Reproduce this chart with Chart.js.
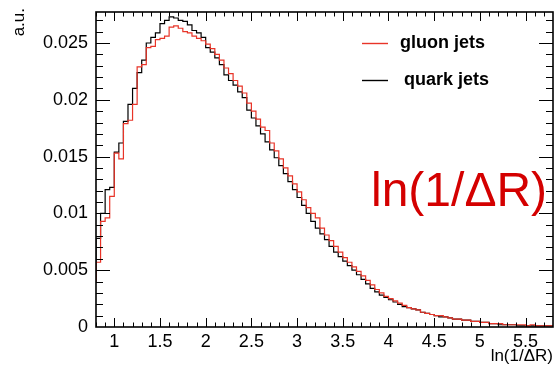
<!DOCTYPE html>
<html>
<head>
<meta charset="utf-8">
<script src="https://cdn.jsdelivr.net/npm/chart.js@4.4.0/dist/chart.umd.min.js"></script>
<style>
html, body { margin: 0; padding: 0; background: #fff; }
#wrap { width: 557px; height: 365px; }
</style>
</head>
<body>
<div id="wrap"><canvas id="myChart" width="557" height="365"></canvas></div>
<script>
// histogram binning (lower edge of first bin, bin width)
var binStart = 0.8;
var binWidth = 0.05;
var xMin = 0.8, xMax = 5.8;
var yMin = 0, yMax = 0.02773;

var xTicks = [1, 1.5, 2, 2.5, 3, 3.5, 4, 4.5, 5, 5.5];
var yTicks = [0, 0.005, 0.01, 0.015, 0.02, 0.025];
var xTitle = 'ln(1/\u0394R)';
var yTitle = 'a.u.';
var bigLabel = 'ln(1/\u0394R)';

// bin contents
var gluonJets = [
  0.0040, 0.0057, 0.0093, 0.0096, 0.0115, 0.0153, 0.0148, 0.0179, 0.0182, 0.0196,
  0.0229, 0.0231, 0.0246, 0.0247, 0.0253, 0.0254, 0.0256, 0.0264, 0.0265, 0.0263,
  0.0260, 0.0259, 0.0256, 0.0254, 0.0252, 0.0249, 0.0245, 0.0240, 0.0235, 0.0228,
  0.0223, 0.0217, 0.0212, 0.0206, 0.0197, 0.0190, 0.0183, 0.0176, 0.0173, 0.0162,
  0.0155, 0.0148, 0.0140, 0.0133, 0.0126, 0.0119, 0.0112, 0.0105, 0.0100, 0.0096,
  0.0087, 0.0081, 0.0076, 0.0071, 0.0066, 0.0061, 0.0057, 0.0053, 0.0049, 0.0045,
  0.0041, 0.0037, 0.0033, 0.0030, 0.0027, 0.0025, 0.0023, 0.0021, 0.0019, 0.0017,
  0.0016, 0.0015, 0.0013, 0.0012, 0.0011, 0.0010, 0.0010, 0.0009, 0.0008, 0.0007,
  0.0007, 0.0006, 0.0006, 0.0005, 0.0005, 0.0004, 0.0004, 0.0003, 0.0003, 0.0003,
  0.0002, 0.0002, 0.0002, 0.0002, 0.0002, 0.0001, 0.0002, 0.0001, 0.0001, 0.0001
];
var quarkJets = [
  0.0040, 0.0078, 0.0100, 0.0121, 0.0123, 0.0154, 0.0162, 0.0181, 0.0196, 0.0210,
  0.0224, 0.0235, 0.0250, 0.0255, 0.0259, 0.0267, 0.0270, 0.0273, 0.0272, 0.0270,
  0.0269, 0.0266, 0.0261, 0.0259, 0.0255, 0.0246, 0.0242, 0.0237, 0.0231, 0.0222,
  0.0217, 0.0213, 0.0207, 0.0202, 0.0191, 0.0184, 0.0177, 0.0170, 0.0163, 0.0156,
  0.0149, 0.0142, 0.0135, 0.0128, 0.0121, 0.0114, 0.0107, 0.0100, 0.0093, 0.0087,
  0.0082, 0.0077, 0.0071, 0.0066, 0.0062, 0.0058, 0.0054, 0.0050, 0.0046, 0.0042,
  0.0038, 0.0034, 0.0031, 0.0028, 0.0026, 0.0024, 0.0022, 0.0020, 0.0018, 0.0017,
  0.0016, 0.0015, 0.0013, 0.0012, 0.0011, 0.0010, 0.0009, 0.0009, 0.0008, 0.0007,
  0.0007, 0.0006, 0.0006, 0.0005, 0.0005, 0.0004, 0.0004, 0.0003, 0.0003, 0.0002,
  0.0002, 0.0002, 0.0002, 0.0001, 0.0001, 0.0001, 0.0001, 0.0001, 0.0001, 0.0001
];

var seriesNames = ['gluon jets', 'quark jets'];
var seriesColors = ['rgb(232,52,40)', '#000000'];

function stepPoints(values) {
  var pts = [];
  for (var i = 0; i < values.length; i++) {
    pts.push({ x: binStart + i * binWidth, y: values[i] });
  }
  pts.push({ x: binStart + values.length * binWidth, y: values[values.length - 1] });
  return pts;
}

var FONT = "'Liberation Sans', Arial, Helvetica, sans-serif";
Chart.defaults.font.family = FONT;
Chart.defaults.color = '#000';

// ROOT style frame: box with ticks pointing inwards on all four sides
var frameTicks = {
  id: 'frameTicks',
  afterDatasetsDraw: function(chart) {
    var ctx = chart.ctx, a = chart.chartArea;
    var xs = chart.scales.x, ys = chart.scales.y;
    ctx.save();
    ctx.strokeStyle = '#000';
    ctx.lineWidth = 1;
    ctx.beginPath();
    var v, px, py, len, k;
    // x ticks every 0.1, majors every 0.5
    for (k = 8; k <= 58; k++) {
      v = k / 10;
      px = Math.round(xs.getPixelForValue(v)) + 0.5;
      if (px < a.left || px > a.right) continue;
      len = (k % 5 === 0) ? 9 : 4.5;
      ctx.moveTo(px, a.bottom); ctx.lineTo(px, a.bottom - len);
      ctx.moveTo(px, a.top); ctx.lineTo(px, a.top + len);
    }
    // y ticks every 0.001, majors every 0.005
    for (k = 0; k <= 27; k++) {
      v = k / 1000;
      py = Math.round(ys.getPixelForValue(v)) + 0.5;
      if (py < a.top || py > a.bottom) continue;
      len = (k % 5 === 0) ? 14 : 7;
      ctx.moveTo(a.left, py); ctx.lineTo(a.left + len, py);
      ctx.moveTo(a.right, py); ctx.lineTo(a.right - len, py);
    }
    ctx.stroke();
    ctx.lineWidth = 1.6;
    ctx.strokeRect(a.left, a.top, a.right - a.left, a.bottom - a.top);
    ctx.restore();
  }
};

// legend, axis titles and the big label
var annotations = {
  id: 'annotations',
  afterDraw: function(chart) {
    var ctx = chart.ctx, a = chart.chartArea;
    ctx.save();
    var rows = [43, 80];
    var textX = [400, 404];
    chart.data.datasets.forEach(function(ds, i) {
      ctx.strokeStyle = ds.borderColor;
      ctx.lineWidth = 1.4;
      ctx.beginPath();
      ctx.moveTo(362, rows[i] + 0.5);
      ctx.lineTo(388, rows[i] + 0.5);
      ctx.stroke();
      ctx.fillStyle = '#000';
      ctx.font = 'bold 18px ' + FONT;
      ctx.textBaseline = 'middle';
      ctx.fillText(ds.label, textX[i], rows[i]);
    });

    // axis titles
    ctx.fillStyle = '#000';
    ctx.font = '17px ' + FONT;
    ctx.textAlign = 'right';
    ctx.textBaseline = 'alphabetic';
    ctx.fillText(xTitle, a.right, 361);
    ctx.save();
    ctx.translate(24, 8);
    ctx.rotate(-Math.PI / 2);
    ctx.textAlign = 'right';
    ctx.fillText(yTitle, 0, 0);
    ctx.restore();

    ctx.fillStyle = 'rgb(212,0,0)';
    ctx.font = '48px ' + FONT;
    ctx.textAlign = 'left';
    ctx.textBaseline = 'alphabetic';
    ctx.fillText(bigLabel, 371, 206);
    ctx.restore();
  }
};

var ctx = document.getElementById('myChart').getContext('2d');
var myChart = new Chart(ctx, {
  type: 'line',
  data: {
    datasets: [
      {
        label: seriesNames[0],
        data: stepPoints(gluonJets),
        borderColor: seriesColors[0],
        borderWidth: 1.2,
        stepped: 'after',
        pointRadius: 0,
        fill: false
      },
      {
        label: seriesNames[1],
        data: stepPoints(quarkJets),
        borderColor: seriesColors[1],
        borderWidth: 1.2,
        stepped: 'after',
        pointRadius: 0,
        fill: false
      }
    ]
  },
  options: {
    responsive: false,
    animation: false,
    devicePixelRatio: 1,
    layout: { padding: { top: 12, right: 4, left: 0, bottom: 0 } },
    plugins: {
      legend: { display: false },
      tooltip: { enabled: false }
    },
    scales: {
      x: {
        type: 'linear',
        min: xMin,
        max: xMax,
        afterBuildTicks: function(scale) {
          scale.ticks = xTicks.map(function(v) { return { value: v }; });
        },
        afterFit: function(scale) {
          scale.height = 38;
          scale.paddingLeft = 0;
          scale.paddingRight = 0;
        },
        grid: { display: false, drawTicks: false },
        border: { display: false },
        ticks: {
          padding: 4,
          autoSkip: false,
          maxRotation: 0,
          font: { size: 18 },
          callback: function(v) { return String(v); }
        }
      },
      y: {
        type: 'linear',
        min: yMin,
        max: yMax,
        afterBuildTicks: function(scale) {
          scale.ticks = yTicks.map(function(v) { return { value: v }; });
        },
        afterFit: function(scale) {
          scale.width = 96;
          scale.paddingTop = 0;
          scale.paddingBottom = 0;
        },
        grid: { display: false, drawTicks: false },
        border: { display: false },
        ticks: {
          padding: 8,
          font: { size: 18 },
          callback: function(v) { return String(v); }
        }
      }
    }
  },
  plugins: [frameTicks, annotations]
});
</script>
</body>
</html>
